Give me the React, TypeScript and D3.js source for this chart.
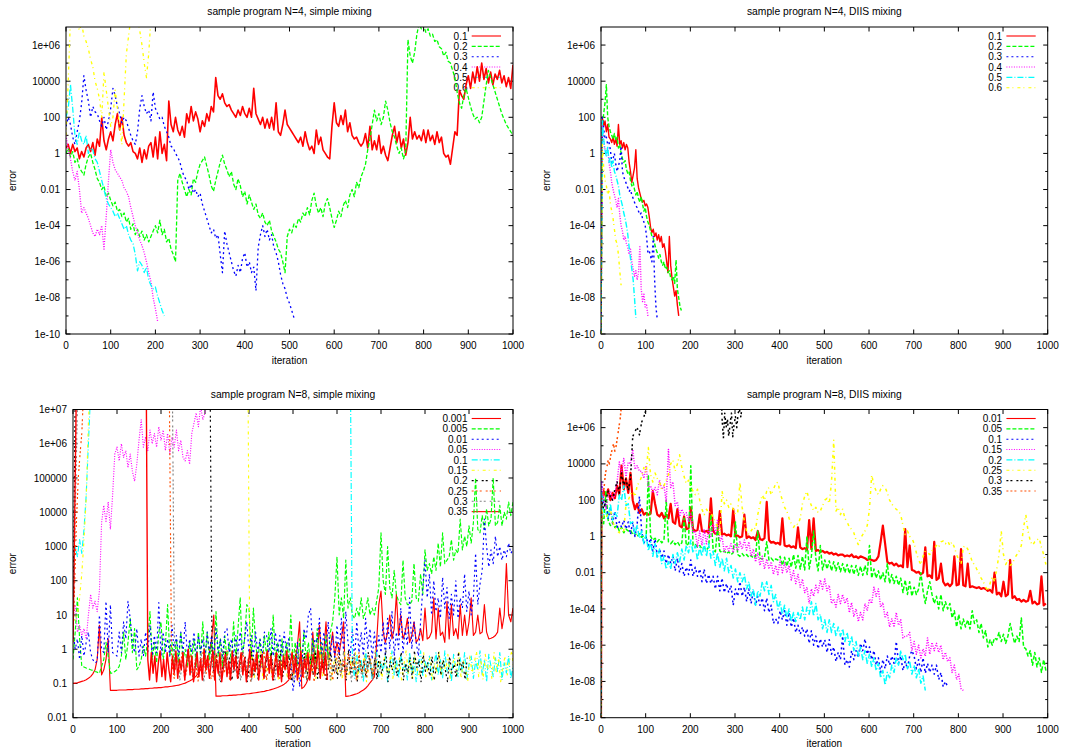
import React from 'react';
import * as d3 from 'd3';

// ---------------- DATA (errors stored as log10 exponents) ----------------
const ITER_TICKS = [0, 100, 200, 300, 400, 500, 600, 700, 800, 900, 1000];

const WIDE_TICKS = [-10, -8, -6, -4, -2, 0, 2, 4, 6];
const WIDE_TICK_LABELS = ['1e-10', '1e-08', '1e-06', '1e-04', '0.01', '1', '100', '10000', '1e+06'];
const WIDE_MINOR = [-9, -7, -5, -3, -1, 1, 3, 5];
const NARROW_TICKS = [-2, -1, 0, 1, 2, 3, 4, 5, 6, 7];
const NARROW_TICK_LABELS = ['0.01', '0.1', '1', '10', '100', '1000', '10000', '100000', '1e+06', '1e+07'];

const LABELS_N4 = ['0.1', '0.2', '0.3', '0.4', '0.5', '0.6'];
const LABELS_N8_SIMPLE = ['0.001', '0.005', '0.01', '0.05', '0.1', '0.15', '0.2', '0.25', '0.3', '0.35'];
const LABELS_N8_DIIS = ['0.01', '0.05', '0.1', '0.15', '0.2', '0.25', '0.3', '0.35'];

// N=4 simple mixing (every 5 iterations from 0)
const A_01 = [0.3,0.5,0.0,0.5,0.1,0.3,-0.3,0.1,-0.2,0.3,0.5,0.1,0.6,-0.1,0.8,0.4,2.0,0.7,0.2,0.8,1.2,0.7,1.6,2.2,1.3,2.0,1.0,0.6,0.4,0.6,0.1,0.0,-0.3,0.3,-0.5,0.2,-0.3,0.4,0.6,-0.2,0.9,-0.3,1.2,0.0,0.5,-0.4,2.9,1.6,1.2,2.0,1.3,1.0,1.5,0.9,2.2,1.7,2.6,1.8,2.3,1.9,1.2,1.8,1.5,2.2,1.8,2.6,2.3,4.2,3.2,3.0,3.3,2.8,2.6,2.7,2.4,2.2,2.0,2.4,2.1,2.6,2.2,2.0,2.5,2.0,3.6,2.2,1.9,1.6,2.0,1.4,1.9,1.4,2.0,1.3,2.8,1.2,1.0,1.6,2.4,1.6,1.4,1.2,1.0,0.8,0.6,0.9,0.4,1.2,0.6,0.2,0.4,0.0,1.3,0.5,0.9,0.2,0.0,-0.2,-0.3,1.5,2.8,1.7,1.5,2.1,1.6,2.4,1.2,1.7,1.0,0.8,0.9,0.6,0.4,0.6,1.1,0.3,1.5,0.2,0.7,0.2,1.0,0.0,0.4,-0.1,-0.4,0.3,1.0,1.5,0.6,1.2,0.3,0.8,-0.1,0.6,2.0,0.8,1.2,0.8,1.0,0.7,1.3,0.6,1.3,0.7,1.0,0.5,1.2,0.6,0.9,0.0,-0.2,-0.1,-0.6,0.3,1.2,1.0,3.5,3.2,3.0,3.8,4.3,3.6,4.5,3.9,4.8,4.0,5.0,4.1,4.7,3.9,4.5,3.8,4.4,4.1,4.6,3.9,4.3,3.7,4.2,3.6,4.9];
const A_02 = [0.0,0.3,-0.2,0.1,-0.5,-0.3,-0.8,-1.0,-1.2,-0.6,-0.2,0.0,-0.5,-0.9,-1.4,-1.6,-2.0,-1.8,-2.4,-2.2,-2.6,-2.9,-2.7,-3.2,-3.1,-3.5,-3.3,-3.8,-3.6,-4.2,-3.9,-4.5,-4.2,-4.6,-4.3,-4.8,-4.5,-4.9,-4.6,-4.3,-4.0,-4.4,-3.7,-4.5,-4.2,-4.9,-4.7,-5.3,-5.6,-6.0,-1.5,-1.1,-1.6,-2.0,-2.4,-2.0,-2.3,-1.4,-1.6,-1.0,-0.6,-0.4,-0.2,-0.7,-1.2,-1.8,-2.1,-1.5,-1.0,-0.5,-0.1,-0.6,-0.9,-1.3,-1.0,-1.7,-2.0,-1.4,-1.8,-2.4,-2.1,-2.8,-2.3,-2.7,-3.1,-2.8,-3.4,-3.6,-3.3,-3.8,-4.0,-3.7,-4.3,-4.6,-4.9,-5.3,-5.5,-6.0,-6.6,-4.6,-4.2,-4.4,-3.9,-4.1,-3.6,-3.8,-3.3,-3.5,-3.0,-3.4,-2.6,-2.2,-2.9,-3.3,-3.0,-3.5,-2.8,-2.5,-3.0,-3.6,-4.1,-3.7,-3.2,-3.5,-2.9,-2.6,-3.0,-2.3,-2.0,-2.4,-1.6,-1.9,-1.3,-1.0,-0.6,0.2,0.8,1.6,2.4,1.8,2.2,1.6,2.0,2.9,2.4,1.7,1.2,0.9,0.4,0.0,0.3,-0.3,0.1,6.3,5.4,5.0,5.6,6.6,7.2,6.9,7.1,6.7,6.9,6.5,6.6,6.2,6.3,5.9,5.8,5.4,5.6,5.1,5.0,4.6,4.2,3.4,2.8,2.5,3.2,3.6,3.1,2.6,2.2,1.9,2.0,1.7,2.0,2.9,3.8,4.6,4.2,3.8,3.4,3.0,2.6,2.2,1.9,1.6,1.4,1.2,1.0];
const A_03 = [1.5,2.0,1.6,0.9,0.5,1.2,1.8,2.8,4.3,3.5,2.9,2.0,2.6,2.3,2.2,1.8,1.5,2.0,1.3,1.8,2.5,3.6,3.2,2.6,2.2,1.7,2.0,1.8,1.4,1.0,0.7,0.5,1.2,2.5,3.2,2.6,2.2,2.4,1.8,3.4,2.5,2.2,1.9,2.0,1.5,1.2,0.9,0.4,0.3,0.0,-0.2,-0.5,-1.0,-1.3,-1.5,-2.0,-1.7,-2.2,-2.0,-2.4,-2.2,-2.8,-3.2,-3.6,-4.0,-4.4,-4.2,-4.7,-4.5,-5.6,-6.6,-4.3,-5.0,-5.5,-6.0,-6.5,-6.8,-6.2,-6.6,-5.8,-5.5,-6.3,-6.0,-6.6,-6.3,-7.6,-5.2,-4.5,-4.0,-4.6,-4.2,-4.8,-4.5,-5.2,-5.5,-6.0,-6.7,-7.2,-7.5,-8.0,-8.3,-8.7,-9.1];
const A_04 = [1.0,0.2,-0.3,-1.0,-1.5,-1.0,-2.0,-3.3,-3.0,-3.3,-3.6,-4.0,-4.4,-4.6,-4.2,-4.5,-4.0,-5.3,-3.5,-1.5,0.2,-0.5,-0.9,-1.1,-1.3,-1.5,-1.9,-2.1,-2.4,-3.0,-3.5,-4.0,-4.4,-4.8,-5.1,-5.5,-6.0,-6.6,-7.1,-8.0,-8.6,-9.3];
const A_05 = [2.0,2.5,3.8,2.5,1.0,0.5,1.2,0.7,0.5,1.0,0.0,0.3,0.2,-0.3,-0.5,-1.0,-1.5,-2.0,-2.5,-2.8,-3.0,-3.2,-3.5,-3.3,-3.6,-3.9,-4.2,-4.0,-4.5,-4.8,-5.0,-5.6,-6.5,-6.0,-6.2,-6.6,-6.3,-7.0,-7.3,-7.5,-7.4,-7.9,-8.3,-8.7,-9.0];
const A_06 = [1.0,4.0,7.5,8,8,7.3,6.8,7.2,6.5,6.2,5.8,5.2,4.8,4.0,3.6,3.0,2.0,4.5,3.5,2.5,1.5,2.0,3.5,2.5,1.5,0.5,3.0,5.5,6.5,7.5,7.8,7.0,7.5,6.8,6.0,5.0,4.2,5.5,7.5,8.0];

// N=4 DIIS mixing (every 3 iterations from 0)
const B_01 = [-10,2.0,1.5,1.8,1.2,1.6,0.9,0.8,0.6,0.9,0.5,0.8,0.4,1.6,0.5,0.7,0.3,0.6,0.2,0.5,0.3,-0.5,-1.0,-1.6,-1.2,-0.8,0.2,-1.4,-1.9,-2.2,-2.5,-2.7,-2.6,-2.9,-2.8,-3.0,-3.5,-4.1,-4.4,-4.2,-4.6,-4.4,-4.8,-4.5,-4.9,-4.6,-5.2,-5.0,-5.4,-6.0,-6.6,-4.6,-6.2,-6.9,-7.4,-7.9,-7.6,-8.4,-9.0];
const B_02 = [-10,1.5,2.2,2.8,3.8,2.0,1.5,1.2,1.0,0.8,1.1,0.7,0.9,0.3,0.5,0.0,-0.3,-0.5,-0.4,-0.9,-1.1,-1.0,-1.5,-1.8,-1.6,-2.0,-2.3,-2.1,-2.5,-2.7,-2.4,-2.8,-3.2,-3.0,-3.5,-3.8,-4.0,-4.3,-4.6,-4.7,-5.0,-5.3,-5.5,-5.8,-5.6,-6.0,-6.2,-6.0,-6.4,-6.3,-6.6,-6.5,-6.9,-7.0,-6.8,-7.2,-5.9,-7.5,-8.0,-8.5,-8.7];
const B_03 = [-10,2.0,1.4,0.8,0.9,0.5,0.6,0.2,-0.5,-0.3,0.0,-0.6,-1.0,-0.7,-0.4,0.4,-1.0,-1.3,-1.5,-1.7,-1.9,-2.1,-2.0,-2.3,-2.5,-2.7,-2.9,-3.0,-3.2,-3.4,-3.3,-3.6,-3.8,-4.0,-4.6,-5.5,-5.4,-5.7,-6.0,-4.6,-7.0,-8.5,-9.2];
const B_04 = [-10,1.5,0.6,0.2,0.0,0.3,-0.5,-1.0,-1.6,-2.0,-2.3,-2.6,-3.0,-2.5,-3.4,-4.0,-4.3,-4.8,-4.6,-5.0,-5.2,-5.6,-5.3,-6.0,-6.4,-6.8,-6.5,-7.0,-6.6,-5.1,-7.5,-8.2,-7.8,-8.5,-8.4,-9.0];
const B_05 = [-10,1.8,0.8,0.2,-0.2,0.4,-0.5,-0.2,-0.8,-0.4,-1.0,-1.2,-1.5,-1.8,-2.3,-2.6,-2.9,-3.3,-3.6,-4.0,-4.5,-5.2,-5.8,-6.4,-7.0,-8.0,-9.1];
const B_06 = [-10,0.5,-0.8,-1.5,-1.8,-2.3,-2.0,-2.8,-3.2,-3.6,-4.2,-4.8,-5.0,-5.6,-6.5,-7.3];

// N=8 simple mixing
const C_0001 = [-1.0,-0.99,-0.98,-0.96,-0.94,-0.92,-0.89,-0.85,-0.8,-0.72,-0.6,-0.3,0.7,-0.75,-0.6,-0.3,0.3,-1.2,-1.2,-1.2,-1.2,-1.19,-1.19,-1.19,-1.19,-1.18,-1.18,-1.18,-1.17,-1.17,-1.17,-1.16,-1.16,-1.15,-1.15,-1.14,-1.14,-1.13,-1.13,-1.12,-1.12,-1.11,-1.1,-1.1,-1.09,-1.08,-1.07,-1.06,-1.05,-1.03,-1.01,-0.99,-0.96,-0.93,-0.89,-0.84,-0.78,-0.7,-0.6,-0.5,-0.4,-0.3,-0.1,0.3,1.0,-1.37,-1.37,-1.37,-1.36,-1.36,-1.36,-1.35,-1.35,-1.34,-1.34,-1.33,-1.33,-1.32,-1.31,-1.3,-1.3,-1.29,-1.28,-1.27,-1.26,-1.25,-1.24,-1.23,-1.21,-1.2,-1.18,-1.16,-1.14,-1.12,-1.09,-1.06,-1.02,-0.97,-0.9,-0.8,-0.65,-0.4,0.1,0.8,-1.15,-1.1,-1.0,-0.85,-0.6,0.5,-0.4,-0.2,0.7,-0.3,-0.1,0.8,-0.3,0.0,0.5,-0.2,0.2,-0.1,0.3,0.8,-1.38,-1.37,-1.36,-1.34,-1.32,-1.3,-1.27,-1.23,-1.19,-1.14,-1.07,-0.98,-0.9,-0.8,0.2,1.3,1.7,0.5,0.2,0.5,1.0,0.3,0.6,1.6,0.4,1.0,0.3,0.5,0.9,0.2,0.4,0.8,0.2,0.3,0.6,0.25,1.2,0.3,0.35,0.5,1.5,0.3,1.2,0.4,0.5,0.2,1.4,0.3,1.3,0.4,0.6,0.3,1.3,0.4,1.0,0.4,0.8,1.5,0.4,0.5,1.0,0.45,0.5,1.3,0.5,0.3,0.32,0.35,0.4,0.5,1.2,0.6,1.0,2.5,1.0,0.8,1.2];
const C_0005 = [-0.3,0.5,1.5,0.3,-0.5,-0.52,-0.55,-0.57,-0.6,-0.62,-0.65,-0.67,-0.7,-0.5,-0.3,0.2,-0.2,-0.7,-0.7,-0.65,-0.6,-0.5,-0.2,0.5,-0.3,0.2,0.9,-0.1,0.6,-0.6,-0.5,-0.3,0.1,-0.2,0.3,1.1,-0.3,0.2,-0.4,0.5,0.8,-0.3,0.1,1.3,-0.2,0.2,-0.5,0.3,-0.4,0.5,-0.3,0.0,-0.5,0.2,-0.4,0.3,-0.5,0.5,-0.2,0.8,-0.4,0.5,-0.3,0.2,-0.5,1.1,-0.2,0.3,-0.5,0.4,-0.3,0.2,-0.4,0.8,-0.3,0.6,1.5,-0.2,0.3,1.3,1.2,-0.3,1.2,0.2,-0.4,0.3,-0.5,0.4,-0.2,0.5,-0.4,1.0,-0.3,0.2,-0.5,0.3,-0.4,0.2,-0.3,1.0,-0.4,0.2,-0.5,0.3,-0.4,0.5,-0.3,0.2,-0.5,0.3,-0.4,0.6,-0.3,0.2,-0.5,0.4,-0.3,0.5,0.8,1.5,2.7,1.0,1.5,0.9,2.6,1.2,1.5,1.0,0.9,1.2,0.95,1.5,0.9,1.1,1.5,1.0,1.2,1.0,1.4,1.8,3.4,2.0,1.6,3.0,1.8,1.5,2.3,1.6,1.4,1.3,2.6,1.5,1.3,1.3,1.4,2.5,1.5,1.4,2.2,1.6,2.9,2.3,2.5,2.2,2.7,2.3,3.1,2.4,3.4,2.5,2.6,2.7,3.2,2.6,2.9,2.8,3.8,2.9,3.3,3.0,3.6,3.1,3.7,5.0,3.5,3.4,3.9,3.5,4.1,3.6,3.8,5.0,3.6,3.7,4.2,3.6,4.0,3.8,4.3,3.9,4.3];
const C_001 = [0.5,0.0,0.3,-0.3,0.4,-0.2,0.2,0.5,-0.1,-0.3,-0.4,-0.35,1.0,0.0,-0.1,1.4,-0.1,1.3,-0.1,-0.15,-0.2,0.5,-0.1,0.8,0.3,1.4,0.9,0.2,-0.1,0.6,-0.2,0.3,-0.2,0.5,-0.1,0.7,-0.2,0.4,-0.1,1.36,-0.2,0.5,-0.1,0.3,-0.2,0.7,-0.1,0.4,-0.2,0.5,-0.1,0.8,-0.2,0.3,-0.1,0.5,-0.2,0.4,-0.1,0.3,-0.2,0.5,-0.1,0.4,-0.2,0.6,-0.1,0.3,-0.2,0.5,0.6,-0.1,0.3,-0.2,0.4,-0.1,0.5,-0.2,0.3,0.8,-0.1,0.4,-0.2,0.5,-0.1,0.3,-0.2,0.5,0.4,-0.1,0.6,-0.2,0.5,-0.1,0.4,-0.2,0.5,-0.1,0.3,-0.3,-1.2,-0.8,0.2,-1.1,-0.5,0.6,0.3,1.0,1.2,-0.1,0.3,0.2,0.9,-0.2,0.5,-0.1,0.8,-0.2,0.4,-0.3,0.7,-0.2,0.9,-0.1,1.1,0.2,-0.2,0.6,-0.3,0.8,-0.1,0.5,-0.2,0.9,0.0,0.6,-0.3,0.5,-0.2,0.4,-0.1,0.8,-0.2,0.9,0.0,1.1,-0.2,0.5,0.0,1.2,-0.1,0.6,0.1,1.5,0.0,0.8,0.2,-0.2,0.8,1.8,2.6,1.5,2.2,1.0,2.0,1.1,1.5,0.9,2.1,1.2,1.8,0.9,1.6,1.0,2.0,0.9,1.5,1.2,2.2,1.1,1.7,1.0,1.5,2.8,1.3,1.9,2.3,3.8,3.0,2.4,2.9,2.5,3.3,2.7,3.0,2.6,2.9,2.7,3.1,2.8,2.9];
const C_005 = [0.9,1.3,0.5,0.7,0.4,0.6,0.3,1.0,1.6,1.2,1.4,1.1,1.7,3.7,4.2,3.7,4.3,3.5,4.5,5.7,5.9,5.5,6.0,5.6,5.8,5.3,5.7,5.2,4.9,5.4,6.1,6.7,5.9,6.2,5.8,6.4,6.0,6.3,5.9,6.5,6.1,6.4,5.8,6.3,5.7,6.2,5.9,6.4,5.8,6.1,5.6,5.5,5.8,5.4,6.3,6.6,6.9,6.5,7.1,6.7,6.9,7.2,7.6];
const C_01_EARLY = [2.5,3.0,2.7,3.2,2.8,3.5,4.5,6.0,7.5,9];
const C_01_LATE = [9,-0.4,-0.85,-0.15,-0.7,-0.3,-0.95,-0.05,-0.6,-0.25,-0.9,-0.45,-0.1,-0.8,-0.35,-0.65,-0.2,-0.95,-0.5,-0.05,-0.75,-0.3,-0.85,-0.15,-0.6,-0.4,-0.9,-0.1,-0.7,-0.25,-0.95,-0.45,-0.05,-0.8,-0.35,-0.6,-0.2,-0.9,-0.5,-0.1,-0.75,-0.3,-0.85,-0.05,-0.65,-0.4,-0.95,-0.15,-0.55,-0.8,-0.25,-0.7,-0.1,-0.9,-0.45,-0.2,-0.85,-0.35,-0.6,-0.05,-0.75,-0.3,-0.95,-0.15,-0.5,-0.8,-0.25,-0.65,-0.1,-0.9,-0.4,-0.7,-0.2,-0.85,-0.5];
const C_015_EARLY = [0.8,0.9,1.0,1.5,2.2,3.2,4.4,6.6,8,9];
const C_015_LATE = [9,-0.5,-0.1,-0.85,-0.3,-0.7,-0.05,-0.95,-0.4,-0.65,-0.2,-0.8,-0.45,-0.1,-0.9,-0.35,-0.6,-0.15,-0.85,-0.5,-0.05,-0.75,-0.3,-0.95,-0.2,-0.6,-0.4,-0.9,-0.1,-0.7,-0.25,-0.85,-0.5,-0.05,-0.8,-0.35,-0.65,-0.15,-0.95,-0.45,-0.2,-0.75,-0.3,-0.9,-0.05,-0.55,-0.8,-0.25,-0.6,-0.1,-0.85,-0.4,-0.7,-0.15,-0.95,-0.5,-0.3,-0.8,-0.05,-0.65,-0.35,-0.9,-0.2,-0.55,-0.75,-0.1,-0.85,-0.4,-0.6,-0.25,-0.95,-0.45,-0.05,-0.7,-0.3,-0.9,-0.15,-0.6,-0.8,-0.35,-0.1,-0.85,-0.5,-0.2,-0.95,-0.4,-0.7,-0.05,-0.8,-0.3,-0.65,-0.15,-0.9,-0.45,-0.25,-0.75,-0.1,-0.85,-0.35,-0.55,-0.95,-0.2,-0.7,-0.4,-0.05,-0.8,-0.3,-0.9,-0.15,-0.6,-0.45,-0.85,-0.1,-0.7,-0.25,-0.95,-0.5,-0.2,-0.75,-0.35,-0.05,-0.6];
const C_02_EARLY = [0.5,3,6,9];
const C_02_LATE = [9,-0.3,-0.8,-0.15,-0.6,-0.95,-0.4,-0.05,-0.7,-0.25,-0.9,-0.5,-0.1,-0.85,-0.35,-0.65,-0.2,-0.95,-0.45,-0.05,-0.75,-0.3,-0.9,-0.15,-0.55,-0.8,-0.25,-0.6,-0.1,-0.9,-0.4,-0.7,-0.05,-0.85,-0.35,-0.5,-0.2,-0.95,-0.6,-0.15,-0.8,-0.3,-0.65,-0.1,-0.9,-0.45,-0.25,-0.75,-0.05,-0.85,-0.4,-0.6,-0.2,-0.95,-0.5,-0.1,-0.7,-0.3,-0.85,-0.15,-0.6,-0.4,-0.9,-0.05,-0.75,-0.25,-0.55,-0.95,-0.2,-0.65,-0.35,-0.85,-0.1,-0.5,-0.8,-0.3,-0.9,-0.15,-0.7,-0.45,-0.05,-0.95,-0.35,-0.6,-0.2,-0.8,-0.5,-0.1,-0.9,-0.4,-0.7,-0.25,-0.85,-0.05,-0.55,-0.3,-0.95,-0.15,-0.65,-0.4,-0.8,-0.2,-0.9,-0.5,-0.1,-0.75,-0.3,-0.6,-0.95,-0.2,-0.7,-0.45,-0.85,-0.1,-0.6,-0.35,-0.9,-0.25];
const C_025_EARLY = [0.3,2.0,3.8,5.0,5.7,6.3,7.5,9];
const C_025_LATE = [9,-0.4,-0.85,-0.2,-0.7,-0.1,-0.9,-0.5,-0.15,-0.8,-0.3,-0.95,-0.45,-0.05,-0.75,-0.25,-0.9,-0.55,-0.1,-0.8,-0.35,-0.7,-0.05,-0.9,-0.4,-0.2,-0.85,-0.5,-0.1,-0.75,-0.3,-0.95,-0.6,-0.15,-0.8,-0.4,-0.05,-0.9,-0.25,-0.7,-0.45,-0.1,-0.85,-0.35,-0.6,-0.2,-0.9,-0.5,-0.05,-0.75,-0.3,-0.85,-0.15,-0.65,-0.4,-0.95,-0.2,-0.7,-0.1,-0.8,-0.45,-0.25,-0.9,-0.6,-0.05,-0.75,-0.35,-0.85,-0.15,-0.55,-0.3,-0.9,-0.1,-0.7,-0.4,-0.8,-0.2,-0.6,-0.95];
const C_03_EARLY = [0.5,2.5,4.5,6.5,8,9];
const C_03_LATE = [9,-0.6,-0.2,-0.9,-0.35,-0.75,-0.05,-0.5,-0.85,-0.25,-0.7,-0.1,-0.95,-0.4,-0.65,-0.15,-0.8,-0.3,-0.9,-0.05,-0.55,-0.2,-0.85,-0.45,-0.7,-0.1,-0.9,-0.35,-0.6,-0.25,-0.95,-0.5,-0.15,-0.75,-0.4,-0.85,-0.05,-0.6,-0.3,-0.9,-0.2,-0.7,-0.45,-0.1,-0.8,-0.35,-0.95,-0.55,-0.15,-0.75,-0.25,-0.9,-0.4,-0.05,-0.65,-0.3,-0.85,-0.2,-0.6,-0.1,-0.9,-0.45,-0.7,-0.25,-0.8,-0.05,-0.55,-0.35,-0.95,-0.15,-0.7,-0.4,-0.85,-0.2,-0.6,-0.3,-0.9,-0.1,-0.75,-0.5];
const C_035_EARLY = [0.2,2.0,4.0,6.0,8.0,9];
const C_035_LATE = [9,-0.3,-0.9,-0.1,-0.7,-0.2,-0.95,-0.4,-0.05,-0.8,-0.3,-0.9,-0.1,-0.6,-0.95,-0.2,-0.7,-0.05,-0.85,-0.3,-0.6,-0.1,-0.9,-0.4,0,-0.75,-0.2,-0.95,-0.5,-0.1,-0.8,-0.3,-0.9,0,-0.6,-0.2,-0.85,-0.4,-0.05,-0.9,-0.3,-0.7,-0.1,-0.95,-0.5,-0.15,-0.8,-0.35,-0.9,-0.05,-0.6,-0.2,-0.85,-0.45,-0.1,-0.75,-0.25,-0.95,-0.5,0,-0.8,-0.3,-0.65,-0.1,-0.9,-0.4,-0.15,-0.85,-0.3,-0.05,-0.7,-0.2,-0.9,-0.5,-0.1,-0.8,-0.35,-0.95,-0.2,-0.6,-0.05,-0.85,-0.4,-0.1,-0.7,-0.25,-0.9,-0.5,-0.05,-0.8,-0.3,-0.6,-0.1,-0.9,-0.45,-0.15,-0.75,-0.35,-0.05,-0.85,-0.3,-0.7,-0.1,-0.9];

// N=8 DIIS mixing (every 5 iterations from 1, after a start at 1e-10)
const D_001 = [2.0,2.5,2.2,2.6,2.0,2.4,2.1,2.8,2.3,3.9,2.6,3.2,2.4,3.5,2.0,1.5,1.8,1.3,1.5,1.2,1.3,1.2,1.25,2.5,1.8,1.2,1.1,1.3,1.0,1.2,1.0,1.8,0.8,0.7,1.5,0.6,0.5,1.1,0.4,0.45,1.6,0.4,0.3,0.35,1.2,0.3,0.25,0.3,0.2,2.1,0.3,0.15,0.2,1.4,0.1,0.15,0.05,0.1,0.0,1.5,0.0,0.05,-0.05,0.0,1.2,-0.1,0.0,-0.1,-0.05,-0.2,0.3,-0.15,-0.2,-0.1,1.9,-0.2,-0.35,-0.3,-0.4,-0.35,-0.45,1.0,-0.5,-0.55,-0.5,-0.6,-0.55,-0.65,0.5,-0.6,-0.7,-0.65,-0.75,0.9,-0.7,1.0,-0.8,-0.75,-0.85,-0.8,-0.9,-0.85,-0.95,-0.9,-1.0,-0.95,-1.05,-1.0,-1.0,-1.1,-1.05,-1.1,-1.0,-1.15,-1.1,-1.2,-1.1,-1.15,-1.2,-1.3,-1.25,-1.3,-1.35,-1.3,-1.1,-0.3,0.6,-0.4,-1.4,-1.5,-1.45,-1.6,-1.5,-1.65,-1.6,-1.7,0.4,-1.7,-0.5,-1.85,-1.9,-2.0,-1.95,-2.1,-2.0,-0.6,-2.2,-2.15,-2.3,-0.3,-2.4,-2.3,-1.5,-2.5,-2.7,-2.6,-2.75,-2.6,-1.1,-2.7,-2.65,-0.7,-2.7,-2.75,-1.5,-2.8,-2.75,-2.8,-2.85,-2.8,-2.9,-2.85,-2.9,-3.0,-2.95,-3.1,-2.0,-3.2,-3.1,-3.3,-2.5,-3.3,-3.2,-1.3,-3.4,-3.3,-3.5,-3.45,-3.6,-3.5,-3.6,-3.55,-3.0,-3.7,-3.6,-3.75,-3.7,-2.2,-3.8,-3.7];
const D_005 = [1.0,0.7,2.5,0.9,0.6,0.8,0.5,0.6,0.3,0.5,0.2,0.4,0.3,0.35,0.1,0.2,0.0,0.15,-0.05,0.05,-0.1,3.4,0.0,-0.2,-0.1,-0.3,-0.15,-0.35,-0.2,2.0,-0.3,-0.4,-0.25,-0.45,-0.3,-0.5,-0.35,1.0,-0.5,-0.4,3.9,-0.5,-0.45,-0.6,-0.5,-0.7,-0.6,-0.75,-0.6,1.2,-0.7,-0.85,0.5,-0.8,-0.9,-0.8,-0.95,-0.85,-1.0,-0.9,0.8,-1.0,-1.1,-0.95,-1.1,-1.0,-1.15,-1.05,-1.2,-1.1,0.3,-1.2,-1.25,-1.15,-0.3,-1.3,-1.2,-1.35,-1.25,-1.3,-1.1,-1.6,-1.15,-1.65,-1.2,-1.7,-1.0,-1.75,-1.05,-1.8,-1.1,-1.85,0.0,-1.8,-1.1,0.3,-1.2,-1.9,-0.5,-1.85,-1.3,-1.8,-1.35,-1.9,-1.4,-1.9,-1.45,-1.95,-1.5,-2.0,-1.55,-2.05,-1.6,-2.1,-1.6,-2.15,-1.65,-2.15,-1.6,-2.1,-0.5,-2.3,-1.8,-2.3,-1.9,-2.4,-2.0,-2.5,-1.5,-2.6,-2.1,-2.6,-2.2,-2.7,-2.3,-3.1,-2.4,-3.2,-2.5,-3.3,-2.8,-3.2,-2.9,-2.0,-3.0,-3.7,-3.0,-2.5,-3.2,-3.7,-3.3,-4.0,-3.2,-4.1,-3.6,-4.0,-3.7,-4.5,-4.1,-5.0,-4.3,-5.1,-4.55,-5.0,-4.6,-5.1,-4.1,-4.8,-4.6,-5.3,-4.8,-5.6,-5.2,-6.1,-5.7,-6.0,-5.6,-5.7,-5.3,-5.8,-5.4,-5.9,-5.5,-4.8,-5.4,-5.9,-5.5,-5.8,-4.5,-6.1,-6.2,-6.6,-6.3,-7.1,-6.4,-7.2,-6.7,-7.5,-6.8,-7.4];
const D_01 = [3.0,1.7,1.8,1.0,1.5,0.7,1.4,0.5,0.8,0.5,0.9,0.4,0.8,0.1,0.8,0.0,0.7,2.2,0.3,-0.4,0.0,-0.5,-0.1,-0.8,-0.15,-1.1,-0.7,-1.2,-0.8,-1.5,-1.0,-1.5,-1.1,-1.9,-1.2,-2.0,-1.5,-2.2,-1.7,-2.1,-1.3,-2.2,-1.7,-2.2,-1.8,-2.5,-1.8,-2.6,-2.1,-2.6,-2.2,-2.9,-2.2,-3.0,-2.3,-3.1,-2.6,-3.1,-2.7,-3.8,-2.9,-3.3,-2.5,-3.3,-2.8,-3.6,-2.9,-3.7,-3.0,-3.8,-3.3,-3.8,-3.4,-4.1,-3.4,-4.2,-3.8,-4.8,-4.55,-4.8,-4.1,-4.6,-4.1,-4.9,-4.2,-5.0,-4.5,-5.3,-4.9,-5.4,-5.0,-5.5,-5.1,-5.9,-5.2,-6.0,-5.5,-6.2,-5.65,-6.1,-5.7,-6.4,-5.7,-6.5,-6.1,-6.9,-6.4,-6.8,-5.5,-7.1,-6.8,-7.2,-6.3,-6.8,-6.3,-6.7,-5.9,-6.3,-5.65,-6.5,-6.1,-6.8,-6.3,-7.1,-6.7,-7.5,-6.8,-7.3,-6.6,-7.1,-6.6,-7.0,-5.8,-7.0,-6.6,-7.4,-6.9,-7.3,-6.6,-6.3,-6.6,-7.3,-6.8,-7.5,-6.7,-7.55,-7.0,-7.5,-7.1,-7.6,-7.1,-7.9,-7.5,-8.3,-8.0,-8.3];
const D_015 = [3.0,2.0,1.5,2.2,2.5,2.0,2.3,3.0,4.1,3.5,4.3,3.3,4.1,4.0,4.8,3.7,3.9,3.6,3.6,3.2,3.9,2.7,2.8,2.4,2.7,2.3,3.1,2.6,2.8,1.9,4.8,2.7,3.0,1.7,1.9,1.1,1.5,1.2,1.3,0.8,1.3,0.2,0.3,-0.6,0.3,-0.5,0.4,-0.4,0.4,0.0,0.7,0.2,0.95,-0.3,0.0,-0.9,-0.5,-0.8,-0.4,-0.9,-0.4,-0.8,-0.3,-0.7,-0.2,-0.75,-0.3,-1.1,-0.7,-1.4,-0.9,-1.6,-1.1,-1.8,-1.25,-1.8,-1.4,-2.1,-1.6,-2.1,-1.3,-2.0,-1.45,-2.0,-1.6,-2.4,-1.9,-2.6,-2.1,-2.8,-2.35,-3.1,-2.8,-3.7,-2.9,-3.3,-2.7,-3.1,-2.4,-2.9,-2.35,-3.0,-2.7,-3.7,-3.45,-3.9,-3.2,-3.7,-3.2,-3.7,-3.4,-4.2,-3.65,-4.4,-4.0,-4.7,-4.2,-4.6,-3.7,-4.1,-3.45,-3.7,-2.8,-3.3,-2.9,-3.9,-3.65,-4.5,-4.2,-5.0,-4.55,-5.0,-4.2,-4.9,-4.6,-5.6,-5.5,-5.5,-5.3,-6.3,-5.8,-6.5,-6.0,-6.7,-6.2,-6.6,-5.6,-6.5,-5.85,-6.3,-5.9,-6.4,-6.0,-6.8,-6.4,-6.9,-6.7,-7.5,-7.1,-7.9,-7.6,-8.4,-8.5];
const D_02 = [2.5,1.2,1.3,1.0,1.8,0.9,1.3,1.1,2.3,2.0,2.8,1.7,1.8,0.7,0.8,0.1,0.6,-0.1,0.3,-0.4,0.1,-0.8,-0.3,-1.1,-0.4,-1.2,-0.7,-1.5,-1.1,-1.8,-1.4,-1.8,-1.0,-1.5,-0.9,-1.4,-0.7,-1.3,-0.5,-0.9,-0.2,-0.9,-0.5,-1.3,-0.6,-1.1,-0.4,-1.1,-0.4,-1.2,-0.8,-1.6,-0.9,-1.7,-1.2,-1.9,-1.2,-2.0,-1.6,-2.3,-1.8,-2.5,-2.0,-2.5,-2.1,-2.9,-2.5,-3.3,-2.9,-3.8,-3.0,-3.3,-2.5,-3.0,-2.5,-3.2,-2.7,-3.6,-3.2,-4.0,-3.6,-4.3,-3.8,-4.5,-4.0,-4.7,-4.2,-4.7,-4.2,-4.6,-3.9,-4.6,-3.9,-4.3,-3.6,-4.4,-3.7,-4.6,-4.3,-5.1,-4.6,-5.3,-4.6,-5.3,-4.8,-5.5,-5.0,-5.5,-5.1,-5.8,-5.3,-6.0,-5.5,-6.3,-5.8,-6.6,-6.1,-6.8,-6.3,-7.0,-6.5,-7.2,-6.7,-7.4,-7.0,-7.8,-7.4,-8.2,-7.5,-7.8,-7.1,-7.5,-6.7,-7.1,-6.3,-6.8,-6.5,-7.3,-6.9,-7.6,-7.1,-7.8,-7.3,-8.1,-7.7,-8.5];
const D_025 = [1.5,1.2,1.0,1.3,1.5,0.8,0.5,0.3,0.2,0.5,0.3,1.8,2.0,2.3,2.5,2.2,2.8,3.0,3.3,3.8,3.5,4.9,3.4,3.0,3.5,3.2,3.0,2.6,2.8,3.1,3.4,4.0,4.2,3.6,4.0,4.5,3.8,3.3,2.9,3.1,2.7,2.5,2.3,2.6,2.0,1.5,1.2,1.5,1.3,1.4,1.0,0.8,0.5,0.1,2.5,1.8,2.0,1.6,1.8,1.5,1.2,1.3,3.0,1.6,0.8,0.3,0.1,0.3,0.5,0.4,1.2,1.8,2.3,2.0,2.5,2.7,2.3,2.6,2.9,3.0,2.4,2.0,1.6,1.4,1.0,0.7,0.5,0.7,0.65,1.0,1.8,2.2,2.5,2.0,1.7,1.4,1.6,1.3,1.4,1.7,2.0,2.1,1.8,3.0,5.3,1.4,1.6,1.2,1.5,1.0,0.8,0.5,0.4,0.2,-0.2,-0.45,-0.1,0.1,0.3,0.6,1.5,3.4,2.8,2.5,2.3,2.6,2.8,2.7,2.4,2.0,1.8,1.6,1.5,1.4,1.2,0.6,0.1,0.3,0.0,-0.1,-0.4,-0.9,-1.3,-1.55,-1.1,-0.8,-0.9,-1.0,-0.8,-0.7,-0.5,-0.6,-0.3,-0.25,-0.4,-0.25,-0.5,-0.3,-0.6,-1.0,-1.3,-1.55,-0.6,-0.5,-0.7,-1.0,-1.4,-1.55,-1.8,-2.0,-2.3,-2.5,-2.8,-3.0,-2.6,-2.2,-2.5,-1.8,-1.0,0.3,-1.0,-1.55,-1.3,-1.6,-1.5,-1.2,-1.0,-0.8,-0.5,0.5,1.2,0.3,-0.25,-0.5,-0.3,-0.2,-0.1,-0.6,-1.0,-1.55];
const D_03_EARLY = [2.0,1.5,2.0,2.5,2.2,2.0,2.6,3.0,2.4,3.5,2.8,3.2,2.5,3.2,5.5,5.8,6.0,5.6,6.3,6.6,7.0,7.5,9];
const D_03_LATE = [9,6.5,5.4,6.8,6.0,6.5,5.5,6.2,6.8,5.5,6.2,6.6,6.0,6.8,7.0,6.6,7.2,9];
const D_035 = [2.0,2.3,2.7,3.5,3.8,4.2,4.0,4.5,4.8,5.1,4.7,5.0,5.5,6.0,6.5,7.3,9];
const START_LOW = [-10];

// ---------------- STYLES ----------------
const COLORS = ['#ff0000', '#00ff00', '#0000ff', '#ff00ff', '#00ffff', '#ffff00', '#000000', '#ff4d00', '#808080'];
const DASHES = ['', '4,2', '2,3', '1,1.5', '6,2,1,2', '3,3,1,4', '2,2,2,4', '2,2,2,2,2,4', '2,2,2,2,2,2,2,4'];

type Seg = { x0: number; dx: number; v: number[] };
type Series = { label: string; style: number; segs: Seg[]; lw?: number };
type PanelDef = {
  title: string; left: number; right: number; top: number; bottom: number;
  yMin: number; yMax: number; ticks: number[]; tickLabels: string[]; minor: number[];
  series: Series[]; ylabelX: number; lw: number;
};

const s = (x0: number, dx: number, v: number[]): Seg => ({ x0, dx, v });

const PANELS: PanelDef[] = [
  {
    title: 'sample program N=4, simple mixing', left: 66, right: 513, top: 27, bottom: 334, lw: 1.3,
    yMin: -10, yMax: 7, ticks: WIDE_TICKS, tickLabels: WIDE_TICK_LABELS, minor: WIDE_MINOR, ylabelX: 12.4,
    series: [A_01, A_02, A_03, A_04, A_05, A_06].map((v, i) => ({ label: LABELS_N4[i], style: i, segs: [s(0, 5, v)], lw: i === 0 ? 1.6 : undefined })),
  },
  {
    title: 'sample program N=4, DIIS mixing', left: 601, right: 1047.7, top: 27, bottom: 334, lw: 1.4,
    yMin: -10, yMax: 7, ticks: WIDE_TICKS, tickLabels: WIDE_TICK_LABELS, minor: WIDE_MINOR, ylabelX: 546.8,
    series: [B_01, B_02, B_03, B_04, B_05, B_06].map((v, i) => ({ label: LABELS_N4[i], style: i, segs: [s(0, 3, v)] })),
  },
  {
    title: 'sample program N=8, simple mixing', left: 73, right: 513, top: 409.5, bottom: 717.7, lw: 1.15,
    yMin: -2, yMax: 7, ticks: NARROW_TICKS, tickLabels: NARROW_TICK_LABELS, minor: [], ylabelX: 12.4,
    series: [
      { label: LABELS_N8_SIMPLE[0], style: 0, segs: [s(0, 5, C_0001)] },
      { label: LABELS_N8_SIMPLE[1], style: 1, segs: [s(0, 5, C_0005)] },
      { label: LABELS_N8_SIMPLE[2], style: 2, segs: [s(0, 5, C_001)] },
      { label: LABELS_N8_SIMPLE[3], style: 3, segs: [s(0, 5, C_005)] },
      { label: LABELS_N8_SIMPLE[4], style: 4, segs: [s(0, 5, C_01_EARLY), s(630, 5, C_01_LATE)] },
      { label: LABELS_N8_SIMPLE[5], style: 5, segs: [s(0, 5, C_015_EARLY), s(397, 5, C_015_LATE)] },
      { label: LABELS_N8_SIMPLE[6], style: 6, segs: [s(0, 2, C_02_EARLY), s(311, 5, C_02_LATE)] },
      { label: LABELS_N8_SIMPLE[7], style: 7, segs: [s(0, 4, C_025_EARLY), s(218, 6, C_025_LATE)] },
      { label: LABELS_N8_SIMPLE[8], style: 8, segs: [s(0, 3, C_03_EARLY), s(225, 6, C_03_LATE)] },
      { label: LABELS_N8_SIMPLE[9], style: 0, segs: [s(0, 2, C_035_EARLY), s(166, 4, C_035_LATE)], lw: 1.4 },
    ],
  },
  {
    title: 'sample program N=8, DIIS mixing', left: 601, right: 1047.7, top: 409.5, bottom: 717.7, lw: 1.5,
    yMin: -10, yMax: 7, ticks: WIDE_TICKS, tickLabels: WIDE_TICK_LABELS, minor: WIDE_MINOR, ylabelX: 546.8,
    series: [
      { label: LABELS_N8_DIIS[0], style: 0, segs: [s(0, 1, START_LOW), s(1, 5, D_001)], lw: 2.2 },
      { label: LABELS_N8_DIIS[1], style: 1, segs: [s(0, 1, START_LOW), s(1, 5, D_005)] },
      { label: LABELS_N8_DIIS[2], style: 2, segs: [s(0, 1, START_LOW), s(1, 5, D_01)] },
      { label: LABELS_N8_DIIS[3], style: 3, segs: [s(0, 1, START_LOW), s(1, 5, D_015)] },
      { label: LABELS_N8_DIIS[4], style: 4, segs: [s(0, 1, START_LOW), s(1, 5, D_02)] },
      { label: LABELS_N8_DIIS[5], style: 5, segs: [s(0, 1, START_LOW), s(1, 5, D_025)] },
      { label: LABELS_N8_DIIS[6], style: 6, segs: [s(0, 1, START_LOW), s(1, 5, D_03_EARLY), s(268, 3, D_03_LATE)] },
      { label: LABELS_N8_DIIS[7], style: 7, segs: [s(0, 1, START_LOW), s(1, 3, D_035)] },
    ],
  },
];

const FONT = "'Liberation Sans', Arial, Helvetica, sans-serif";

function Panel({ p, id }: { p: PanelDef; id: number }) {
  const x = d3.scaleLinear().domain([ITER_TICKS[0], ITER_TICKS[ITER_TICKS.length - 1]]).range([p.left, p.right]);
  const y = d3.scaleLog().domain([Math.pow(10, p.yMin), Math.pow(10, p.yMax)]).range([p.bottom, p.top]);
  const line = d3.line<[number, number]>().x(d => x(d[0])).y(d => y(Math.pow(10, d[1])));
  const cx = (p.left + p.right) / 2;
  const cy = (p.top + p.bottom) / 2;
  const TL = 4.5;
  const legTop = p.top + 9;
  const legStep = 10.35;
  return (
    <g>
      <defs>
        <clipPath id={`clip${id}`}>
          <rect x={p.left} y={p.top} width={p.right - p.left} height={p.bottom - p.top} />
        </clipPath>
      </defs>
      <text x={cx} y={p.top - 12} textAnchor="middle" fontSize={10.3} fill="#000">{p.title}</text>
      {ITER_TICKS.map(t => (
        <g key={`x${t}`}>
          <line x1={x(t)} x2={x(t)} y1={p.bottom} y2={p.bottom - TL} stroke="#000" strokeWidth={1} />
          <line x1={x(t)} x2={x(t)} y1={p.top} y2={p.top + TL} stroke="#000" strokeWidth={1} />
          <text x={x(t)} y={p.bottom + 15.3} textAnchor="middle" fontSize={10} fill="#000">{t}</text>
        </g>
      ))}
      {p.ticks.map((t, i) => (
        <g key={`y${t}`}>
          <line x1={p.left} x2={p.left + TL} y1={y(Math.pow(10, t))} y2={y(Math.pow(10, t))} stroke="#000" strokeWidth={1} />
          <line x1={p.right} x2={p.right - TL} y1={y(Math.pow(10, t))} y2={y(Math.pow(10, t))} stroke="#000" strokeWidth={1} />
          <text x={p.left - 6} y={y(Math.pow(10, t)) + 3.6} textAnchor="end" fontSize={10} fill="#000">{p.tickLabels[i]}</text>
        </g>
      ))}
      {p.minor.map(t => (
        <g key={`m${t}`}>
          <line x1={p.left} x2={p.left + 2.5} y1={y(Math.pow(10, t))} y2={y(Math.pow(10, t))} stroke="#000" strokeWidth={1} />
          <line x1={p.right} x2={p.right - 2.5} y1={y(Math.pow(10, t))} y2={y(Math.pow(10, t))} stroke="#000" strokeWidth={1} />
        </g>
      ))}
      <text x={cx} y={p.bottom + 29.6} textAnchor="middle" fontSize={10} fill="#000">iteration</text>
      <text transform={`translate(${p.ylabelX},${cy}) rotate(-90)`} textAnchor="middle" dy="0.35em" fontSize={10} fill="#000">error</text>
      {p.series.map((se, i) => (
        <g key={`l${i}`}>
          <text x={p.right - 45.5} y={legTop + i * legStep + 3.6} textAnchor="end" fontSize={10} fill="#000">{se.label}</text>
          <line x1={p.right - 41.3} x2={p.right - 12} y1={legTop + i * legStep} y2={legTop + i * legStep}
            stroke={COLORS[se.style]} strokeWidth={1.1} strokeDasharray={DASHES[se.style]} />
        </g>
      ))}
      <g clipPath={`url(#clip${id})`}>
        {p.series.map((se, i) => {
          const pts: [number, number][] = se.segs.flatMap(sg => sg.v.map((v, k) => [sg.x0 + k * sg.dx, v] as [number, number]));
          return (
            <path key={`s${i}`} d={line(pts) || ''} fill="none" stroke={COLORS[se.style]} strokeWidth={se.lw ?? p.lw}
              strokeDasharray={DASHES[se.style]} strokeLinejoin="round" />
          );
        })}
      </g>
      <rect x={p.left} y={p.top} width={p.right - p.left} height={p.bottom - p.top} fill="none" stroke="#000" strokeWidth={1} />
    </g>
  );
}

export default function App() {
  return (
    <svg width={1074} height={754} viewBox="0 0 1074 754"
      style={{ position: 'absolute', left: 0, top: 0, background: '#fff' }} fontFamily={FONT}>
      <rect x={0} y={0} width={1074} height={754} fill="#fff" />
      {PANELS.map((p, i) => <Panel key={i} p={p} id={i} />)}
    </svg>
  );
}
